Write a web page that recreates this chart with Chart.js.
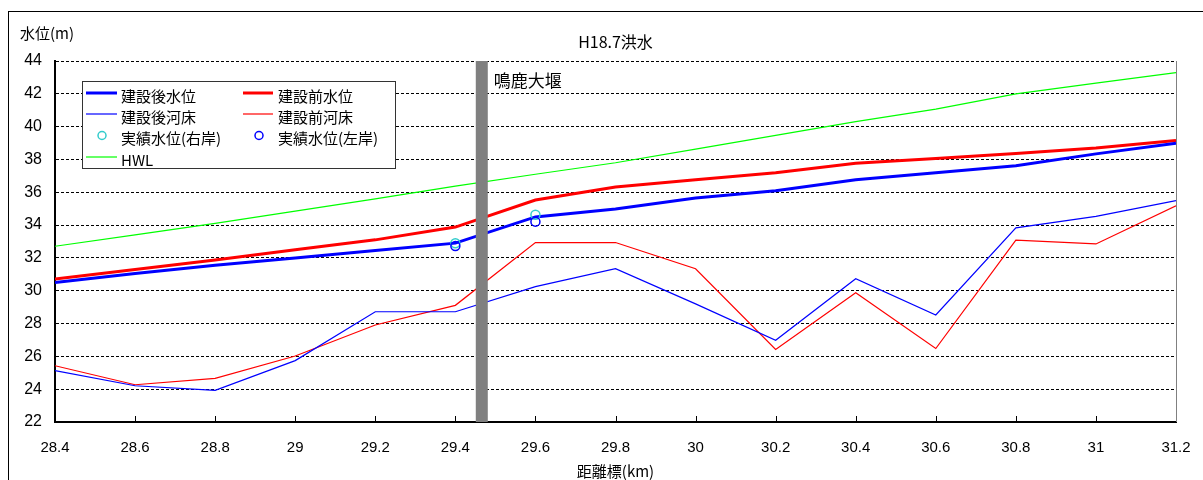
<!DOCTYPE html>
<html>
<head>
<meta charset="utf-8">
<script src="https://cdn.jsdelivr.net/npm/chart.js@4/dist/chart.umd.min.js"></script>
<style>
html,body{margin:0;padding:0;background:#fff;}
canvas{display:block;}
</style>
</head>
<body>
<canvas id="c" width="1203" height="480"></canvas>
<script>
// ---- data ----
const distances = [28.4, 28.6, 28.8, 29.0, 29.2, 29.4, 29.6, 29.8, 30.0, 30.2, 30.4, 30.6, 30.8, 31.0, 31.2];
const afterWaterLevel  = [30.50, 31.05, 31.55, 32.00, 32.45, 32.90, 34.50, 34.98, 35.65, 36.09, 36.76, 37.19, 37.61, 38.34, 38.99];
const beforeWaterLevel = [30.72, 31.30, 31.87, 32.50, 33.10, 33.88, 35.53, 36.32, 36.76, 37.19, 37.77, 38.06, 38.36, 38.70, 39.15];
const afterBed  = [25.13, 24.21, 23.93, 25.74, 28.72, 28.72, 30.25, 31.34, 29.20, 26.98, 30.73, 28.52, 33.83, 34.53, 35.49];
const beforeBed = [25.43, 24.27, 24.66, 26.02, 27.91, 29.11, 32.93, 32.94, 31.34, 26.42, 29.88, 26.48, 33.08, 32.85, 35.18];
const hwl = [32.71, 33.40, 34.10, 34.85, 35.60, 36.37, 37.10, 37.80, 38.63, 39.47, 40.30, 41.07, 42.00, 42.65, 43.29];
const observedKm = [29.4, 29.6];
const observedRight = [32.89, 34.63];
const observedLeft  = [32.73, 34.21];
const weirKm = 29.466;
const weirName = '鳴鹿大堰';
const titleText = 'H18.7洪水';
const yTitle = '水位(m)';
const xTitle = '距離標(km)';
const seriesNames = ['建設後水位','建設前水位','建設後河床','建設前河床','実績水位(右岸)','実績水位(左岸)','HWL'];

const toXY = (arr) => distances.map((d, i) => ({x: d, y: arr[i]}));
const obsXY = (arr) => observedKm.map((d, i) => ({x: d, y: arr[i]}));

const JP = '"Noto Sans CJK JP", "Liberation Sans", sans-serif';
const NUM = '"Liberation Sans", "Noto Sans", sans-serif';

const lineDs = (label, data, color, width, order) => ({
  type: 'line', label, data, borderColor: color, backgroundColor: color,
  borderWidth: width, pointRadius: 0, tension: 0, fill: false, order
});

const datasets = [
  Object.assign(lineDs(seriesNames[0], toXY(afterWaterLevel), '#0000FF', 3, 2), {legendWidth: 3}),
  Object.assign(lineDs(seriesNames[1], toXY(beforeWaterLevel), '#FF0000', 3, 3), {legendWidth: 3}),
  Object.assign(lineDs(seriesNames[2], toXY(afterBed), '#0000FF', 1.2, 4), {legendWidth: 1.2}),
  Object.assign(lineDs(seriesNames[3], toXY(beforeBed), '#FF0000', 1.2, 5), {legendWidth: 1.2}),
  {type: 'line', label: seriesNames[4], data: obsXY(observedRight), showLine: false,
   pointRadius: 4.5, pointBorderWidth: 1.5, pointBorderColor: '#33CCCC', pointBackgroundColor: 'rgba(0,0,0,0)',
   borderColor: '#33CCCC', order: 1, isPoint: true},
  {type: 'line', label: seriesNames[5], data: obsXY(observedLeft), showLine: false,
   pointRadius: 4.5, pointBorderWidth: 1.5, pointBorderColor: '#0000FF', pointBackgroundColor: 'rgba(0,0,0,0)',
   borderColor: '#0000FF', order: 0, isPoint: true},
  Object.assign(lineDs(seriesNames[6], toXY(hwl), '#00FF00', 1.2, 6), {legendWidth: 1.2})
];

const decor = {
  id: 'decor',
  beforeDraw(chart) {
    const ctx = chart.ctx;
    ctx.save();
    ctx.fillStyle = '#fff';
    ctx.fillRect(0, 0, chart.width, chart.height);
    ctx.restore();
  },
  afterDatasetsDraw(chart) {
    const ctx = chart.ctx;
    const a = chart.chartArea;
    const xs = chart.scales.x;
    ctx.save();
    // weir bar
    const wx = xs.getPixelForValue(weirKm);
    ctx.fillStyle = '#808080';
    ctx.fillRect(wx - 6, a.top, 12, a.bottom - a.top);
    ctx.fillStyle = '#000';
    ctx.font = '17px ' + JP;
    ctx.textBaseline = 'middle';
    ctx.textAlign = 'left';
    ctx.fillText(weirName, wx + 12, 81);

    // x tick marks inside
    ctx.strokeStyle = '#000';
    ctx.lineWidth = 1;
    xs.ticks.forEach(t => {
      const px = Math.round(xs.getPixelForValue(t.value)) + 0.5;
      ctx.beginPath();
      ctx.moveTo(px, a.bottom);
      ctx.lineTo(px, a.bottom - 6);
      ctx.stroke();
    });

    // right border of plot
    ctx.strokeStyle = '#808080';
    ctx.beginPath();
    ctx.moveTo(a.right + 0.5, a.top);
    ctx.lineTo(a.right + 0.5, a.bottom);
    ctx.stroke();

    // legend
    const lx = 82, ly = 81, lw = 313, lh = 87;
    ctx.fillStyle = '#fff';
    ctx.fillRect(lx, ly, lw, lh);
    ctx.strokeStyle = '#333';
    ctx.lineWidth = 1;
    ctx.strokeRect(lx + 0.5, ly + 0.5, lw, lh);
    const rows = [96, 117, 138.5, 160];
    const cols = [{ls: 86, le: 117, tx: 121, cx: 102}, {ls: 243, le: 273, tx: 278, cx: 259}];
    const layout = [[0, 0, 0], [1, 0, 1], [2, 1, 0], [3, 1, 1], [4, 2, 0], [5, 2, 1], [6, 3, 0]];
    ctx.font = '15px ' + JP;
    ctx.textBaseline = 'middle';
    ctx.textAlign = 'left';
    layout.forEach(([di, r, c]) => {
      const ds = chart.data.datasets[di];
      const y = rows[r];
      const col = cols[c];
      if (ds.isPoint) {
        ctx.strokeStyle = ds.pointBorderColor;
        ctx.lineWidth = 1.5;
        ctx.beginPath();
        ctx.arc(col.cx, y - 3, 4, 0, Math.PI * 2);
        ctx.stroke();
      } else {
        ctx.strokeStyle = ds.borderColor;
        ctx.lineWidth = ds.legendWidth;
        ctx.beginPath();
        ctx.moveTo(col.ls, y - 3);
        ctx.lineTo(col.le, y - 3);
        ctx.stroke();
      }
      ctx.fillStyle = '#000';
      ctx.fillText(ds.label, col.tx, y);
    });

    // titles
    ctx.fillStyle = '#000';
    ctx.font = '16px ' + JP;
    ctx.textAlign = 'center';
    ctx.fillText(titleText, (a.left + a.right) / 2, 42);
    ctx.font = '15px ' + JP;
    ctx.textAlign = 'left';
    ctx.fillText(yTitle, 20, 33);
    ctx.textAlign = 'center';
    ctx.fillText(xTitle, (a.left + a.right) / 2, 471);

    // outer frame
    ctx.strokeStyle = '#000';
    ctx.lineWidth = 1;
    ctx.strokeRect(8.5, 11.5, 1400, 600);
    ctx.restore();
  }
};

new Chart(document.getElementById('c'), {
  type: 'line',
  data: {datasets},
  options: {
    responsive: false,
    animation: false,
    devicePixelRatio: 1,
    layout: {padding: {top: 61, right: 27, bottom: 0, left: 0}},
    plugins: {legend: {display: false}, title: {display: false}, tooltip: {enabled: false}},
    scales: {
      x: {
        type: 'linear', min: 28.4, max: 31.2,
        afterBuildTicks(scale) {
          scale.ticks = distances.map(v => ({value: v}));
        },
        afterFit(scale) { scale.height = 58; scale.paddingLeft = 0; scale.paddingRight = 0; },
        ticks: {
          autoSkip: false, maxRotation: 0, padding: 17, color: '#000',
          font: {family: NUM, size: 15},
          callback: (v) => String(Math.round(v * 10) / 10)
        },
        grid: {display: false, drawTicks: false},
        border: {display: true, color: '#000', width: 2}
      },
      y: {
        type: 'linear', min: 22, max: 44,
        afterFit(scale) { scale.width = 55; scale.paddingTop = 0; scale.paddingBottom = 0; },
        ticks: {stepSize: 2, padding: 13, color: '#000', font: {family: NUM, size: 16}},
        grid: {
          drawTicks: false,
          color: (c) => (c.tick && c.tick.value === 22) ? 'rgba(0,0,0,0)' : '#000',
          lineWidth: 1
        },
        border: {display: true, color: '#000', width: 2, dash: [3, 2]}
      }
    }
  },
  plugins: [decor]
});
</script>
</body>
</html>
